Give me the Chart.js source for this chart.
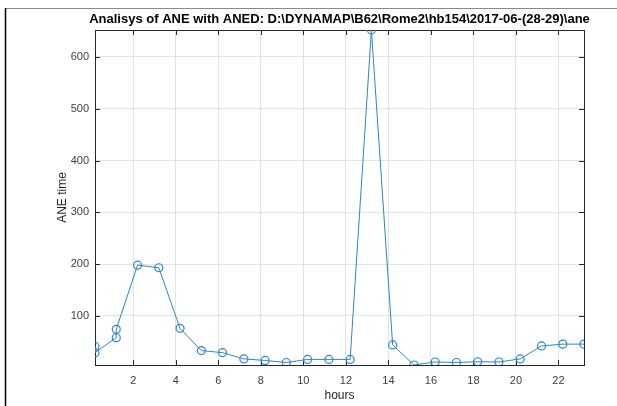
<!DOCTYPE html>
<html>
<head>
<meta charset="utf-8">
<script src="https://cdn.jsdelivr.net/npm/chart.js@4"></script>
<style>
  html, body { margin: 0; padding: 0; background: #fff; }
  #wrap { width: 617px; height: 406px; }
</style>
</head>
<body>
<div id="wrap"><canvas id="aneChart" width="617" height="406"></canvas></div>
<script>
// hour of the record and the ANE time
const hours = [0.2, 0.2, 1.2, 1.2, 2.2, 3.2, 4.2, 5.2, 6.2, 7.2, 8.2, 9.2, 10.2, 11.2, 12.2,
               13.2, 14.2, 15.2, 16.2, 17.2, 18.2, 19.2, 20.2, 21.2, 22.2, 23.2];
const aneTime = [41, 29, 58, 74, 198, 193, 76, 33, 29, 17, 14, 10, 16, 16, 16,
                 652, 44, 5.2, 11, 10, 11.5, 11, 17, 42, 45.5, 45.5];
const xTicks = [2, 4, 6, 8, 10, 12, 14, 16, 18, 20, 22];
const yTicks = [100, 200, 300, 400, 500, 600];
const titleText = 'Analisys of ANE with ANED: D:\\DYNAMAP\\B62\\Rome2\\hb154\\2017-06-(28-29)\\ane';

const axisColor = '#262626';
const tickColor = '#404040';
const lineColor = '#2b87c9';
const font = '"Liberation Sans", Arial, Helvetica, sans-serif';

// frame, title and matlab style box with inward ticks
const matlabBox = {
  id: 'matlabBox',
  beforeDraw(chart) {
    const c = chart.ctx;
    c.save();
    c.fillStyle = '#fff';
    c.fillRect(0, 0, chart.width, chart.height);
    c.lineWidth = 1;
    c.strokeStyle = '#8a8a8a';
    c.beginPath(); c.moveTo(5, 8.5); c.lineTo(617, 8.5); c.stroke();
    c.strokeStyle = '#000';
    c.lineWidth = 1.5;
    c.beginPath(); c.moveTo(5.5, 8); c.lineTo(5.5, 406); c.stroke();
    c.restore();
  },
  beforeDatasetsDraw(chart) {
    const c = chart.ctx;
    const a = chart.chartArea;
    const xs = chart.scales.x, ys = chart.scales.y;
    c.save();
    c.strokeStyle = axisColor;
    c.lineWidth = 1;
    c.strokeRect(Math.round(a.left) + 0.5, Math.round(a.top) + 0.5,
                 Math.round(a.right - a.left), Math.round(a.bottom - a.top));
    const tl = 5;
    c.beginPath();
    xTicks.forEach(v => {
      const px = Math.round(xs.getPixelForValue(v)) + 0.5;
      c.moveTo(px, a.bottom); c.lineTo(px, a.bottom - tl);
      c.moveTo(px, a.top); c.lineTo(px, a.top + tl);
    });
    yTicks.forEach(v => {
      const py = Math.round(ys.getPixelForValue(v)) + 0.5;
      c.moveTo(a.left, py); c.lineTo(a.left + tl, py);
      c.moveTo(a.right, py); c.lineTo(a.right - tl, py);
    });
    c.stroke();
    c.restore();
  },
  afterDraw(chart) {
    const c = chart.ctx;
    const a = chart.chartArea;
    c.save();
    c.fillStyle = '#000';
    c.font = 'bold 13px ' + font;
    c.textAlign = 'center';
    c.textBaseline = 'middle';
    c.fillText(titleText, (a.left + a.right) / 2, 19);
    c.restore();
  }
};

const ctx = document.getElementById('aneChart').getContext('2d');
const aneChart = new Chart(ctx, {
  type: 'line',
  data: {
    datasets: [{
      label: 'ANE',
      data: hours.map((h, i) => ({ x: h, y: aneTime[i] })),
      borderColor: lineColor,
      borderWidth: 1,
      backgroundColor: 'rgba(0,0,0,0)',
      pointBackgroundColor: 'rgba(0,0,0,0)',
      pointBorderColor: lineColor,
      pointBorderWidth: 1.2,
      pointRadius: 4,
      tension: 0,
      fill: false
    }]
  },
  options: {
    responsive: false,
    animation: false,
    events: [],
    layout: { padding: { left: 0, right: 33, top: 30, bottom: 0 } },
    scales: {
      x: {
        type: 'linear',
        min: 0.2,
        max: 23.2,
        afterBuildTicks(scale) { scale.ticks = xTicks.map(v => ({ value: v })); },
        afterFit(scale) { scale.height = 41; },
        grid: { color: 'rgba(38,38,38,0.13)', drawTicks: false },
        border: { display: false },
        ticks: {
          color: tickColor, padding: 9, maxRotation: 0, autoSkip: false,
          font: { family: font, size: 11 }
        },
        title: {
          display: true, text: 'hours', color: axisColor,
          font: { family: font, size: 12 }, padding: { top: 0, bottom: 3 }
        }
      },
      y: {
        min: 5.2,
        max: 652,
        afterBuildTicks(scale) { scale.ticks = yTicks.map(v => ({ value: v })); },
        afterFit(scale) { scale.width = 95; },
        grid: { color: 'rgba(38,38,38,0.13)', drawTicks: false },
        border: { display: false },
        ticks: {
          color: tickColor, padding: 6, autoSkip: false,
          font: { family: font, size: 11 }
        },
        title: {
          display: true, text: 'ANE time', color: axisColor,
          font: { family: font, size: 12 }, padding: { top: 55, bottom: 0 }
        }
      }
    },
    plugins: {
      legend: { display: false },
      title: { display: false },
      tooltip: { enabled: false }
    }
  },
  plugins: [matlabBox]
});
</script>
</body>
</html>
